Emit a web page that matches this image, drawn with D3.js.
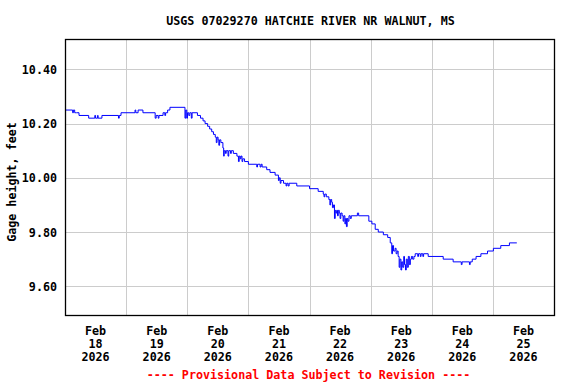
<!DOCTYPE html>
<html>
<head>
<script src="https://cdn.jsdelivr.net/npm/d3@7"></script>
<style>
  body { margin: 0; background: #fff; }
  text { font-family: "DejaVu Sans Mono", monospace; font-weight: bold; font-size: 11.7px; }
</style>
</head>
<body>
<div id="vis"></div>
<script>
// hours since Feb 18 2026 00:00, and gage height (ft)
var obsHours = [0,3.0,3.3,3.8,4.5,5.5,9.3,11.7,12.0,12.8,13.0,14.5,21.0,21.3,22.0,27.5,27.8,28.7,30.6,
  35.4,35.8,36.6,36.9,38.5,39.2,39.5,40.3,41.2,
  47.1,47.4,47.8,48.1,48.6,49.0,49.6,49.9,52.0,53.2,54.2,55.0,56.0,56.8,57.6,58.3,59.0,59.4,59.7,60.1,60.4,60.7,61.2,
  62.0,62.3,62.5,63.0,63.3,64.0,64.3,65.0,65.3,66.1,67.5,68.1,68.4,68.8,69.1,69.5,69.8,70.5,72.0,75.3,75.6,76.6,77.0,77.4,
  79.2,80.5,82.5,83.8,84.1,84.5,84.8,85.8,86.8,87.1,87.6,88.0,91.0,96.0,99.4,
  101.4,101.7,102.0,102.6,103.6,104.0,104.3,104.7,105.0,105.4,105.8,106.1,106.4,106.7,107.0,107.3,107.7,108.0,108.3,
  108.8,109.2,109.5,109.9,110.2,110.5,110.8,111.1,111.5,112.0,112.4,114.8,115.3,119.3,120.5,121.8,123.0,125.0,126.7,
  127.7,128.3,128.6,129.0,129.6,130.0,130.4,130.8,131.2,131.5,131.9,132.2,132.6,133.0,133.3,133.7,134.0,134.4,134.8,
  135.2,135.6,136.0,136.5,137.0,137.5,138.5,138.8,139.5,139.8,140.5,140.8,142.6,148.5,152.4,155.6,155.9,158.8,159.1,
  159.9,161.4,163.3,165.9,168.2,171.1,174.5,177.4];
var gageFt = [10.25,10.24,10.25,10.24,10.24,10.23,10.22,10.23,10.22,10.23,10.22,10.23,10.22,10.23,10.24,10.25,10.24,10.25,10.24,
  10.22,10.23,10.22,10.23,10.24,10.23,10.24,10.25,10.26,
  10.22,10.25,10.22,10.24,10.23,10.24,10.22,10.24,10.23,10.22,10.21,10.20,10.19,10.18,10.17,10.16,10.15,10.13,10.15,10.14,10.12,10.14,10.13,
  10.11,10.08,10.10,10.09,10.10,10.08,10.10,10.09,10.10,10.09,10.08,10.06,10.08,10.07,10.08,10.06,10.07,10.06,10.05,10.04,10.05,10.04,10.05,10.04,
  10.03,10.02,10.01,9.99,10.00,9.98,9.99,9.98,9.97,9.98,9.97,9.98,9.97,9.96,9.95,
  9.94,9.93,9.94,9.93,9.92,9.90,9.92,9.91,9.89,9.90,9.85,9.88,9.87,9.88,9.86,9.88,9.87,9.85,9.87,
  9.86,9.84,9.86,9.83,9.85,9.82,9.85,9.84,9.86,9.85,9.86,9.87,9.86,9.84,9.83,9.81,9.80,9.79,9.78,
  9.76,9.72,9.75,9.73,9.74,9.72,9.73,9.71,9.67,9.70,9.66,9.69,9.67,9.71,9.68,9.66,9.70,9.67,9.71,
  9.68,9.70,9.71,9.70,9.71,9.72,9.71,9.72,9.71,9.72,9.71,9.72,9.71,9.70,9.69,9.68,9.69,9.68,9.69,
  9.70,9.71,9.72,9.73,9.74,9.75,9.76,9.76];

var dayLabels = ["18","19","20","21","22","23","24","25"];
var yTicks = [9.6, 9.8, 10.0, 10.2, 10.4];

var margin = {top: 39, right: 22, bottom: 69, left: 65};
var width = 576 - margin.left - margin.right;
var height = 384 - margin.top - margin.bottom;

var svg = d3.select("#vis").append("svg")
  .attr("width", 576)
  .attr("height", 384);

var g = svg.append("g").attr("transform", "translate(" + margin.left + "," + margin.top + ")");

var x = d3.scaleLinear().domain([0, 24 * dayLabels.length]).range([0, width]);
var y = d3.scaleLinear().domain([9.494, 10.512]).range([height, 0]);

// grid
g.selectAll("line.vgrid")
  .data(d3.range(1, dayLabels.length))
  .enter().append("line")
    .attr("x1", function(d){ return Math.round(x(d * 24)) + 0.5; })
    .attr("x2", function(d){ return Math.round(x(d * 24)) + 0.5; })
    .attr("y1", 0).attr("y2", height)
    .attr("stroke", "#cccccc");

g.selectAll("line.hgrid")
  .data(yTicks)
  .enter().append("line")
    .attr("x1", 0).attr("x2", width)
    .attr("y1", function(d){ return Math.round(y(d)) + 0.5; })
    .attr("y2", function(d){ return Math.round(y(d)) + 0.5; })
    .attr("stroke", "#cccccc");

// data
var pts = obsHours.map(function(h, i){ return [h, gageFt[i]]; });
var line = d3.line()
  .x(function(d){ return x(d[0]); })
  .y(function(d){ return y(d[1]); })
  .curve(d3.curveStepAfter);

g.append("path")
  .datum(pts)
  .attr("d", line)
  .attr("fill", "none")
  .attr("stroke", "#0000ff")
  .attr("stroke-width", 1);

// frame
g.append("rect")
  .attr("x", 0.5).attr("y", 0.5)
  .attr("width", width).attr("height", height)
  .attr("fill", "none")
  .attr("stroke", "#000")
  .attr("stroke-width", 1.3);

// y tick labels
g.selectAll("text.ylab")
  .data(yTicks)
  .enter().append("text")
    .attr("x", -8)
    .attr("y", function(d){ return y(d) + 4.5; })
    .attr("text-anchor", "end")
    .text(function(d){ return d3.format(".2f")(d); });

// x tick labels (centered on noon)
var xl = g.selectAll("text.xlab")
  .data(dayLabels)
  .enter().append("text")
    .attr("text-anchor", "middle")
    .attr("transform", function(d, i){ return "translate(" + x(i * 24 + 12) + "," + (height + 19.5) + ")"; });
xl.append("tspan").attr("x", 0).attr("y", 0).text("Feb");
xl.append("tspan").attr("x", 0).attr("y", 13).text(function(d){ return d; });
xl.append("tspan").attr("x", 0).attr("y", 26).text("2026");

// title
svg.append("text")
  .attr("x", margin.left + width / 2 + 1)
  .attr("y", 24.5)
  .attr("text-anchor", "middle")
  .text("USGS 07029270 HATCHIE RIVER NR WALNUT, MS");

// y axis title
svg.append("text")
  .attr("transform", "translate(16,182) rotate(-90)")
  .attr("text-anchor", "middle")
  .text("Gage height, feet");

// footer
svg.append("text")
  .attr("x", margin.left + width / 2 - 1)
  .attr("y", 379)
  .attr("text-anchor", "middle")
  .attr("fill", "#ff0000")
  .text("---- Provisional Data Subject to Revision ----");
</script>
</body>
</html>
